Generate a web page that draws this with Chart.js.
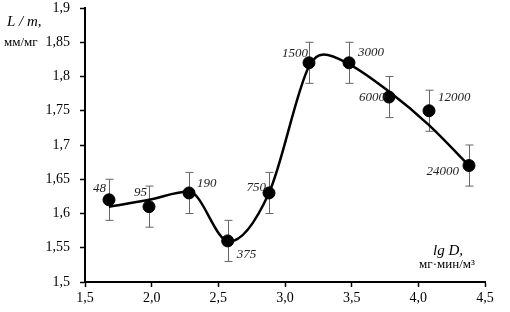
<!DOCTYPE html>
<html>
<head>
<meta charset="utf-8">
<script src="https://cdn.jsdelivr.net/npm/chart.js@4.4.1/dist/chart.umd.min.js"></script>
<style>
  html, body { margin: 0; padding: 0; background: #fff; }
  #wrap { width: 510px; height: 312px; }
</style>
</head>
<body>
<div id="wrap"><canvas id="myChart"></canvas></div>
<script>
// lg D of the doses and the measured L/m
const doses = ['48', '95', '190', '375', '750', '1500', '3000', '6000', '12000', '24000'];
const lgD = [1.68, 1.98, 2.28, 2.57, 2.88, 3.18, 3.48, 3.78, 4.08, 4.38];
const valores = [1.62, 1.61, 1.63, 1.56, 1.63, 1.82, 1.82, 1.77, 1.75, 1.67];
const errores = [0.03, 0.03, 0.03, 0.03, 0.03, 0.03, 0.03, 0.03, 0.03, 0.03];

// smooth fitted curve
const curvaX = [1.68, 1.98, 2.28, 2.58, 2.88, 3.18, 3.29, 3.48, 3.78, 4.08, 4.38];
const curvaY = [1.61, 1.62, 1.632, 1.559, 1.63, 1.815, 1.832, 1.818, 1.778, 1.729, 1.67];

const xTicks = [1.5, 2.0, 2.5, 3.0, 3.5, 4.0, 4.5];
const yTicks = [1.5, 1.55, 1.6, 1.65, 1.7, 1.75, 1.8, 1.85, 1.9];

const serif = '"Liberation Serif", "Times New Roman", serif';

// label placement: [align, dx, dy]
const lugar = [
  ['right', -3, -11], ['right', -2, -14], ['left', 8, -9], ['left', 9, 14], ['right', -3, -5],
  ['right', -1, -9], ['left', 9, -10], ['right', -4, 1], ['left', 9, -13], ['right', -10, 6]
];

const barrasError = {
  id: 'barrasError',
  beforeDatasetsDraw(chart) {
    const ctx = chart.ctx;
    const x = chart.scales.x, y = chart.scales.y;
    ctx.save();
    ctx.strokeStyle = '#666';
    ctx.lineWidth = 1;
    lgD.forEach((v, i) => {
      const px = Math.round(x.getPixelForValue(v)) + 0.5;
      const top = y.getPixelForValue(valores[i] + errores[i]);
      const bot = y.getPixelForValue(valores[i] - errores[i]);
      ctx.beginPath();
      ctx.moveTo(px, top); ctx.lineTo(px, bot);
      ctx.moveTo(px - 4, top); ctx.lineTo(px + 4, top);
      ctx.moveTo(px - 4, bot); ctx.lineTo(px + 4, bot);
      ctx.stroke();
    });
    ctx.restore();
  },
  afterDatasetsDraw(chart) {
    const ctx = chart.ctx;
    const x = chart.scales.x, y = chart.scales.y;
    ctx.save();
    ctx.fillStyle = '#222';
    ctx.font = 'italic 13px ' + serif;
    ctx.textBaseline = 'middle';
    lgD.forEach((v, i) => {
      const l = lugar[i];
      ctx.textAlign = l[0];
      ctx.fillText(doses[i], x.getPixelForValue(v) + l[1], y.getPixelForValue(valores[i]) + l[2]);
    });
    // axis titles
    ctx.fillStyle = '#000';
    ctx.textAlign = 'left';
    ctx.font = 'italic 15px ' + serif;
    ctx.fillText('L / m,', 7, 22);
    ctx.font = '13px ' + serif;
    ctx.fillText('мм/мг', 4, 43);
    ctx.textAlign = 'center';
    ctx.font = 'italic 15px ' + serif;
    ctx.fillText('lg D,', 448, 251);
    ctx.font = '13px ' + serif;
    ctx.fillText('мг·мин/м³', 447, 265);
    ctx.restore();
  }
};

new Chart(document.getElementById('myChart'), {
  type: 'scatter',
  data: {
    datasets: [
      {
        type: 'line',
        data: curvaX.map((v, i) => ({ x: v, y: curvaY[i] })),
        borderColor: '#000',
        borderWidth: 2.5,
        pointRadius: 0,
        cubicInterpolationMode: 'monotone',
        fill: false
      },
      {
        data: lgD.map((v, i) => ({ x: v, y: valores[i] })),
        backgroundColor: '#000',
        borderColor: '#000',
        pointRadius: 6,
        pointHoverRadius: 6
      }
    ]
  },
  options: {
    responsive: true,
    maintainAspectRatio: false,
    animation: false,
    layout: { padding: { left: 0, top: 0, right: 25, bottom: 0 }, autoPadding: false },
    plugins: { legend: { display: false }, tooltip: { enabled: false } },
    scales: {
      x: {
        type: 'linear',
        min: 1.5, max: 4.5,
        afterBuildTicks: s => { s.ticks = xTicks.map(v => ({ value: v })); },
        afterFit: s => { s.height = 30; },
        ticks: {
          color: '#000', padding: 3,
          font: { family: serif, size: 14 },
          callback: v => v.toFixed(1).replace('.', ',')
        },
        grid: { drawOnChartArea: false, drawTicks: true, tickLength: 5, color: '#000', tickWidth: 1.5 },
        border: { display: true, color: '#000', width: 2 }
      },
      y: {
        min: 1.5, max: 1.9,
        afterBuildTicks: s => { s.ticks = yTicks.map(v => ({ value: v })); },
        afterFit: s => { s.width = 85; s.paddingTop = 8; s.paddingBottom = 0; },
        ticks: {
          color: '#000', padding: 10,
          font: { family: serif, size: 14 },
          callback: v => String(Number(v.toFixed(2))).replace('.', ',')
        },
        grid: { drawOnChartArea: false, drawTicks: true, tickLength: 5, color: '#000', tickWidth: 1.5 },
        border: { display: true, color: '#000', width: 2 }
      }
    }
  },
  plugins: [barrasError]
});
</script>
</body>
</html>
